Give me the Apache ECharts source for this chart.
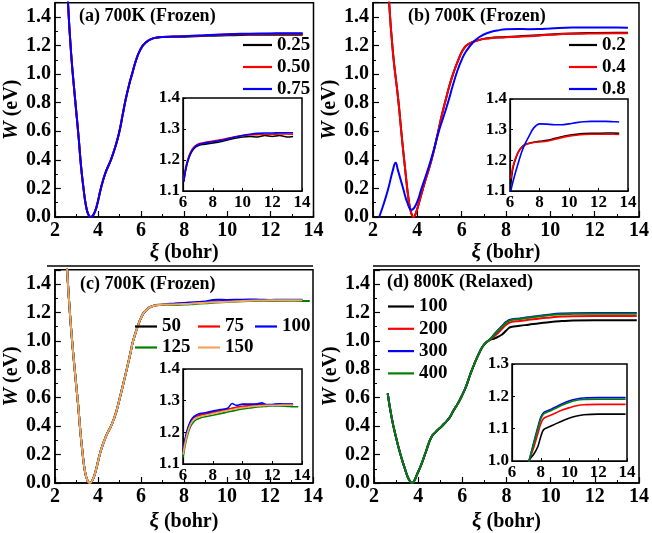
<!DOCTYPE html>
<html><head><meta charset="utf-8">
<script src="https://cdn.jsdelivr.net/npm/echarts@6/dist/echarts.min.js"></script>
<style>html,body{margin:0;padding:0;background:#fff}#c{width:652px;height:533px}</style>
</head><body><div id="c"></div>
<script>
// ---------- Panel (a) 700K Frozen ----------
const aRiseXi = [2.6, 2.75, 2.94, 3.1, 3.21, 3.32, 3.44, 3.56, 3.67, 3.79, 3.93, 4.15, 4.35, 4.6, 4.8, 4.98, 5.15, 5.28, 5.45, 5.58, 5.75, 5.96, 6.2, 6.55, 7.0];
const aRiseW  = [1.52, 1.15, 0.82, 0.56, 0.36, 0.21, 0.08, 0.015, 0.0, 0.015, 0.07, 0.21, 0.31, 0.40, 0.49, 0.59, 0.72, 0.82, 0.93, 1.0, 1.09, 1.17, 1.22, 1.25, 1.26];
const aPlatXi = [7.5, 8, 9, 10, 11, 12, 13, 13.5];
const aPlat025 = [1.262, 1.262, 1.268, 1.272, 1.275, 1.276, 1.275, 1.275];
const aPlat050 = [1.263, 1.265, 1.27, 1.278, 1.28, 1.282, 1.283, 1.283];
const aPlat075 = [1.263, 1.265, 1.272, 1.28, 1.283, 1.285, 1.286, 1.286];
const aInXi  = [6.05, 6.2, 6.4, 6.6, 6.8, 7.0, 7.3, 7.6, 8.0, 8.5, 9.0, 9.5, 10, 10.5, 11, 11.5, 12, 12.5, 13, 13.4];
const aIn025 = [1.13, 1.172, 1.207, 1.228, 1.24, 1.246, 1.25, 1.252, 1.255, 1.259, 1.265, 1.27, 1.274, 1.276, 1.274, 1.279, 1.276, 1.279, 1.274, 1.276];
const aIn050 = [1.135, 1.18, 1.213, 1.233, 1.245, 1.251, 1.255, 1.258, 1.261, 1.265, 1.27, 1.275, 1.279, 1.281, 1.282, 1.283, 1.283, 1.284, 1.284, 1.283];
const aIn075 = [1.13, 1.175, 1.21, 1.23, 1.242, 1.249, 1.253, 1.256, 1.259, 1.263, 1.268, 1.274, 1.279, 1.283, 1.286, 1.287, 1.287, 1.288, 1.288, 1.288];

// ---------- Panel (b) 700K Frozen ----------
const bXi  = [2.72, 2.9, 3.14, 3.3, 3.44, 3.6, 3.72, 3.83, 3.95, 4.11, 4.35, 4.64, 4.93, 5.1, 5.28, 5.45, 5.61, 5.8, 6.06, 6.3, 6.8, 7.2, 8, 9, 10, 11, 12, 13, 13.5];
const b02W = [1.52, 1.15, 0.82, 0.56, 0.35, 0.13, 0.03, 0.0, 0.035, 0.12, 0.25, 0.40, 0.59, 0.71, 0.82, 0.92, 1.0, 1.08, 1.17, 1.21, 1.24, 1.252, 1.26, 1.268, 1.278, 1.285, 1.288, 1.289, 1.289];
const b04W = [1.52, 1.15, 0.82, 0.56, 0.35, 0.13, 0.03, 0.0, 0.035, 0.12, 0.25, 0.40, 0.59, 0.71, 0.82, 0.92, 1.0, 1.08, 1.17, 1.21, 1.24, 1.25, 1.258, 1.265, 1.275, 1.282, 1.285, 1.286, 1.286];
const b08Xi = [2.28, 2.5, 2.69, 2.9, 3.02, 3.12, 3.36, 3.55, 3.74, 3.95, 4.19, 4.45, 4.69, 4.97, 5.2, 5.4, 5.6, 5.8, 6.0, 6.2, 6.5, 6.8, 7.2, 7.6, 8.0, 8.5, 9.0, 9.5, 10, 11, 12, 13, 13.5];
const b08W  = [0.0, 0.1, 0.2, 0.33, 0.38, 0.33, 0.2, 0.1, 0.05, 0.09, 0.2, 0.32, 0.44, 0.6, 0.71, 0.81, 0.92, 1.02, 1.1, 1.16, 1.22, 1.26, 1.29, 1.305, 1.315, 1.316, 1.315, 1.316, 1.32, 1.326, 1.327, 1.326, 1.325];
const bInXi = [6.05, 6.2, 6.4, 6.6, 6.8, 7.0, 7.3, 7.6, 8.0, 8.5, 9.0, 9.5, 10, 10.5, 11, 11.5, 12, 12.5, 13, 13.4];
const bIn02 = [1.12, 1.175, 1.208, 1.23, 1.243, 1.251, 1.256, 1.259, 1.262, 1.265, 1.271, 1.277, 1.282, 1.285, 1.287, 1.288, 1.288, 1.289, 1.289, 1.288];
const bIn04 = [1.14, 1.18, 1.21, 1.23, 1.242, 1.25, 1.255, 1.258, 1.26, 1.262, 1.268, 1.274, 1.279, 1.282, 1.284, 1.285, 1.285, 1.285, 1.285, 1.284];
const bIn08 = [1.1, 1.13, 1.165, 1.198, 1.228, 1.252, 1.28, 1.305, 1.319, 1.318, 1.316, 1.316, 1.319, 1.323, 1.326, 1.327, 1.327, 1.327, 1.326, 1.325];

// ---------- Panel (c) 700K Frozen ----------
const cRiseXi = [2.56, 2.72, 2.92, 3.08, 3.18, 3.28, 3.4, 3.52, 3.62, 3.73, 3.87, 4.12, 4.35, 4.64, 4.85, 5.02, 5.2, 5.4, 5.52, 5.62, 5.8, 6.0, 6.2, 6.55, 7.0];
const cRiseW  = [1.52, 1.15, 0.8, 0.55, 0.37, 0.22, 0.08, 0.015, 0.0, 0.015, 0.07, 0.22, 0.32, 0.41, 0.5, 0.6, 0.71, 0.84, 0.92, 0.99, 1.08, 1.16, 1.21, 1.245, 1.255];
const cPlatXi = [7.5, 8, 8.5, 9, 9.5, 10, 10.5, 11, 11.5, 12, 12.5, 13, 13.5];
const cPlatXi125 = [7.5, 8, 8.5, 9, 9.5, 10, 10.5, 11, 11.5, 12, 12.5, 13, 13.5, 13.85];
const c50  = [1.26, 1.263, 1.267, 1.272, 1.275, 1.279, 1.282, 1.285, 1.286, 1.286, 1.287, 1.287, 1.287];
const c75  = [1.26, 1.263, 1.268, 1.272, 1.276, 1.28, 1.283, 1.285, 1.286, 1.286, 1.286, 1.287, 1.286];
const c100 = [1.262, 1.267, 1.272, 1.277, 1.29, 1.288, 1.289, 1.291, 1.29, 1.288, 1.29, 1.289, 1.289];
const c125 = [1.252, 1.255, 1.26, 1.265, 1.27, 1.274, 1.277, 1.28, 1.281, 1.282, 1.283, 1.282, 1.281, 1.281];
const c150 = [1.256, 1.259, 1.264, 1.269, 1.272, 1.275, 1.279, 1.283, 1.284, 1.285, 1.285, 1.286, 1.286];
const cInXi    = [6.0, 6.15, 6.3, 6.5, 6.7, 6.9, 7.2, 7.5, 8, 8.5, 9, 9.3, 9.6, 10, 10.5, 11, 11.3, 11.6, 12, 12.5, 13, 13.4];
const cInXi125 = [6.0, 6.15, 6.3, 6.5, 6.7, 6.9, 7.2, 7.5, 8, 8.5, 9, 9.3, 9.6, 10, 10.5, 11, 11.3, 11.6, 12, 12.5, 13, 13.4, 13.75];
const cIn50  = [1.135, 1.175, 1.205, 1.23, 1.244, 1.25, 1.255, 1.258, 1.262, 1.267, 1.272, 1.275, 1.278, 1.281, 1.284, 1.286, 1.287, 1.287, 1.287, 1.288, 1.288, 1.288];
const cIn75  = [1.14, 1.178, 1.207, 1.232, 1.245, 1.251, 1.256, 1.259, 1.263, 1.268, 1.272, 1.276, 1.279, 1.282, 1.284, 1.286, 1.286, 1.287, 1.287, 1.287, 1.288, 1.287];
const cIn100 = [1.14, 1.18, 1.21, 1.235, 1.248, 1.255, 1.26, 1.262, 1.267, 1.272, 1.276, 1.291, 1.285, 1.289, 1.289, 1.29, 1.293, 1.288, 1.288, 1.29, 1.289, 1.289];
const cIn125 = [1.12, 1.16, 1.19, 1.218, 1.232, 1.24, 1.246, 1.249, 1.254, 1.259, 1.264, 1.267, 1.27, 1.274, 1.277, 1.28, 1.281, 1.282, 1.283, 1.283, 1.282, 1.281, 1.281];
const cIn150 = [1.13, 1.168, 1.198, 1.225, 1.24, 1.246, 1.251, 1.254, 1.259, 1.264, 1.269, 1.272, 1.275, 1.278, 1.281, 1.283, 1.284, 1.285, 1.285, 1.286, 1.286, 1.286];

// ---------- Panel (d) 800K Relaxed ----------
const dRiseXi = [2.62, 2.8, 3.0, 3.2, 3.38, 3.52, 3.63, 3.72, 3.81, 3.92, 4.14, 4.35, 4.59, 4.8, 4.97, 5.2, 5.42, 5.6, 5.8, 6.0, 6.17, 6.35, 6.55, 6.75, 6.92, 7.05];
const dRiseW  = [0.63, 0.46, 0.32, 0.2, 0.11, 0.045, 0.012, 0.0, 0.012, 0.05, 0.13, 0.22, 0.32, 0.36, 0.385, 0.42, 0.46, 0.51, 0.56, 0.62, 0.68, 0.76, 0.84, 0.91, 0.96, 0.985];
const dTailXi = [7.2, 7.5, 7.8, 8.0, 8.2, 8.6, 9, 9.5, 10, 10.5, 11, 12, 13, 13.9];
const d100 = [1.003, 1.02, 1.045, 1.075, 1.097, 1.106, 1.114, 1.124, 1.133, 1.139, 1.143, 1.145, 1.145, 1.145];
const d200 = [1.003, 1.04, 1.085, 1.115, 1.132, 1.14, 1.148, 1.158, 1.165, 1.171, 1.174, 1.175, 1.175, 1.175];
const d300 = [1.003, 1.055, 1.105, 1.135, 1.15, 1.158, 1.166, 1.177, 1.186, 1.192, 1.195, 1.196, 1.196, 1.196];
const d400 = [1.003, 1.052, 1.1, 1.13, 1.146, 1.154, 1.162, 1.173, 1.182, 1.188, 1.19, 1.191, 1.191, 1.191];

// ---------- ticks / labels ----------
const mainXTicks = [2, 4, 6, 8, 10, 12, 14];
const mainYTicks = [0.0, 0.2, 0.4, 0.6, 0.8, 1.0, 1.2, 1.4];
const insetYTicksABC = [1.1, 1.2, 1.3, 1.4];
const insetYTicksD = [1.0, 1.1, 1.2, 1.3];
const titles = ['(a) 700K (Frozen)', '(b) 700K (Frozen)', '(c) 700K (Frozen)', '(d) 800K (Relaxed)'];

const F = 'Liberation Serif';
const BLACK = '#000000', RED = '#ff0000', BLUE = '#0000ff', GREEN = '#008000', ORANGE = '#f4a460';

function pairs(xs, ys) { return xs.map((x, i) => [x, ys[i]]); }
function cat(a, b) { return a.concat(b); }

const grids = [
  {left: 47.5, top: 2.7, width: 266, height: 214.3},
  {left: 183, top: 98, width: 119, height: 93},
  {left: 373, top: 2.7, width: 267, height: 214.3},
  {left: 510, top: 99, width: 118, height: 92},
  {left: 48, top: 269.8, width: 265, height: 213.2},
  {left: 183, top: 369, width: 119, height: 95},
  {left: 374, top: 269.8, width: 266, height: 213.2},
  {left: 512, top: 364, width: 115, height: 97}
].map(g => Object.assign(g, {show: true, borderColor: '#000', borderWidth: 1.5, backgroundColor: 'transparent', containLabel: false}));

const lblMain = {fontFamily: F, fontWeight: 'bold', fontSize: 20, color: '#000'};
const lblIn = {fontFamily: F, fontWeight: 'bold', fontSize: 17, color: '#000'};
const nameStyle = {fontFamily: F, fontWeight: 'bold', fontSize: 20, color: '#000',
  rich: {i: {fontFamily: F, fontWeight: 'bold', fontStyle: 'italic', fontSize: 21, color: '#000'}}};

function mainX(gi, gap) {
  return {type: 'value', gridIndex: gi, min: mainXTicks[0], max: mainXTicks[mainXTicks.length-1], interval: mainXTicks[1]-mainXTicks[0],
    name: '{i|ξ} (bohr)', nameLocation: 'middle', nameGap: gap, nameTextStyle: nameStyle,
    axisLine: {lineStyle: {color: '#000', width: 1.5}}, axisTick: {inside: true, length: 6, lineStyle: {color: '#000', width: 1.2}},
    minorTick: {show: true, splitNumber: 2, length: 3, lineStyle: {color: '#000', width: 1}},
    splitLine: {show: false}, axisLabel: Object.assign({margin: 4}, lblMain)};
}
function mainY(gi) {
  return {type: 'value', gridIndex: gi, min: mainYTicks[0], max: 1.5, interval: 0.2,
    name: '{i|W} (eV)', nameLocation: 'middle', nameGap: 29, nameTextStyle: nameStyle,
    axisLine: {lineStyle: {color: '#000', width: 1.5}}, axisTick: {inside: true, length: 6, lineStyle: {color: '#000', width: 1.2}},
    minorTick: {show: true, splitNumber: 2, length: 3, lineStyle: {color: '#000', width: 1}},
    splitLine: {show: false}, axisLabel: Object.assign({margin: 4, showMaxLabel: false, formatter: v => v.toFixed(1)}, lblMain)};
}
function inX(gi) {
  return {type: 'value', gridIndex: gi, min: 6, max: 14, interval: 2,
    axisLine: {lineStyle: {color: '#000', width: 1.2}}, axisTick: {inside: true, length: 3, lineStyle: {color: '#000'}},
    splitLine: {show: false}, axisLabel: Object.assign({margin: 3}, lblIn)};
}
function inY(gi, ticks) {
  return {type: 'value', gridIndex: gi, min: ticks[0], max: ticks[ticks.length-1], interval: 0.1,
    axisLine: {lineStyle: {color: '#000', width: 1.2}}, axisTick: {inside: true, length: 3, lineStyle: {color: '#000'}},
    splitLine: {show: false}, axisLabel: Object.assign({margin: 3, formatter: v => v.toFixed(1)}, lblIn)};
}

const xAxes = [mainX(0, 21), inX(1), mainX(2, 21), inX(3), mainX(4, 28), inX(5), mainX(6, 28), inX(7)];
const yAxes = [mainY(0), inY(1, insetYTicksABC), mainY(2), inY(3, insetYTicksABC), mainY(4), inY(5, insetYTicksABC), mainY(6), inY(7, insetYTicksD)];

function ln(name, ai, data, color, w) {
  const inset = ai % 2 === 1;
  return {type: 'line', name, xAxisIndex: ai, yAxisIndex: ai, data, color, showSymbol: false, symbol: 'none',
    smooth: inset ? 0.3 : 0.5, clip: true, lineStyle: {color, width: w || 2}, itemStyle: {color}, animation: false, silent: true};
}

const series = [
  ln('a|0.25', 0, pairs(cat(aRiseXi, aPlatXi), cat(aRiseW, aPlat025)), BLACK),
  ln('a|0.50', 0, pairs(cat(aRiseXi, aPlatXi), cat(aRiseW, aPlat050)), RED),
  ln('a|0.75', 0, pairs(cat(aRiseXi, aPlatXi), cat(aRiseW, aPlat075)), BLUE),
  ln('a|0.25', 1, pairs(aInXi, aIn025), BLACK, 1.6),
  ln('a|0.50', 1, pairs(aInXi, aIn050), RED, 1.6),
  ln('a|0.75', 1, pairs(aInXi, aIn075), BLUE, 1.6),

  ln('b|0.2', 2, pairs(bXi, b02W), BLACK),
  ln('b|0.4', 2, pairs(bXi, b04W), RED),
  ln('b|0.8', 2, pairs(b08Xi, b08W), BLUE),
  ln('b|0.2', 3, pairs(bInXi, bIn02), BLACK, 1.6),
  ln('b|0.4', 3, pairs(bInXi, bIn04), RED, 1.6),
  ln('b|0.8', 3, pairs(bInXi, bIn08), BLUE, 1.6),

  ln('c|50', 4, pairs(cat(cRiseXi, cPlatXi), cat(cRiseW, c50)), BLACK),
  ln('c|75', 4, pairs(cat(cRiseXi, cPlatXi), cat(cRiseW, c75)), RED),
  ln('c|100', 4, pairs(cat(cRiseXi, cPlatXi), cat(cRiseW, c100)), BLUE),
  ln('c|125', 4, pairs(cat(cRiseXi, cPlatXi125), cat(cRiseW, c125)), GREEN),
  ln('c|150', 4, pairs(cat(cRiseXi, cPlatXi), cat(cRiseW, c150)), ORANGE),
  ln('c|50', 5, pairs(cInXi, cIn50), BLACK, 1.6),
  ln('c|75', 5, pairs(cInXi, cIn75), RED, 1.6),
  ln('c|100', 5, pairs(cInXi, cIn100), BLUE, 1.6),
  ln('c|125', 5, pairs(cInXi125, cIn125), GREEN, 1.6),
  ln('c|150', 5, pairs(cInXi, cIn150), ORANGE, 1.6),

  ln('d|100', 6, pairs(cat(dRiseXi, dTailXi), cat(dRiseW, d100)), BLACK),
  ln('d|200', 6, pairs(cat(dRiseXi, dTailXi), cat(dRiseW, d200)), RED),
  ln('d|300', 6, pairs(cat(dRiseXi, dTailXi), cat(dRiseW, d300)), BLUE),
  ln('d|400', 6, pairs(cat(dRiseXi, dTailXi), cat(dRiseW, d400)), GREEN),
  ln('d|100', 7, pairs(cat(dRiseXi, dTailXi), cat(dRiseW, d100)), BLACK, 1.6),
  ln('d|200', 7, pairs(cat(dRiseXi, dTailXi), cat(dRiseW, d200)), RED, 1.6),
  ln('d|300', 7, pairs(cat(dRiseXi, dTailXi), cat(dRiseW, d300)), BLUE, 1.6),
  ln('d|400', 7, pairs(cat(dRiseXi, dTailXi), cat(dRiseW, d400)), GREEN, 1.6)
];

const legTxt = {fontFamily: F, fontWeight: 'bold', fontSize: 19, lineHeight: 19, color: '#000'};
function leg(data, left, top, iw, gap) {
  return {data, left, top, orient: 'vertical', icon: 'rect', itemWidth: iw, itemHeight: 2.2, itemGap: gap,
    padding: 0, selectedMode: false, textStyle: legTxt, formatter: n => n.split('|')[1]};
}
const legends = [
  leg(['a|0.25', 'a|0.50', 'a|0.75'], 243, 35.5, 29, 3),
  leg(['b|0.2', 'b|0.4', 'b|0.8'], 569, 35.5, 28, 3),
  leg(['c|50'], 135, 317, 22, 3),
  leg(['c|75'], 198, 317, 22, 3),
  leg(['c|100'], 255, 317, 22, 3),
  leg(['c|125'], 135, 338, 22, 3),
  leg(['c|150'], 198, 338, 22, 3),
  leg(['d|100', 'd|200', 'd|300', 'd|400'], 388, 297, 26, 3.3)
];

const titleStyle = {fontFamily: F, fontWeight: 'bold', fontSize: 18, color: '#000'};
const titlePos = [[79, 7.5], [408, 7.5], [80, 275], [387, 273]];
const titleOpts = titles.map((t, i) => ({text: t, left: titlePos[i][0], top: titlePos[i][1], padding: 0, textStyle: titleStyle}));

const chart = echarts.init(document.getElementById('c'), null, {renderer: 'canvas'});
chart.setOption({
  animation: false,
  backgroundColor: '#fff',
  title: titleOpts,
  grid: grids,
  xAxis: xAxes,
  yAxis: yAxes,
  legend: legends,
  series,
  graphic: [
    {type: 'line', shape: {x1: 47, y1: 266, x2: 313, y2: 266}, style: {stroke: '#000', lineWidth: 1.5}},
    {type: 'line', shape: {x1: 373, y1: 266, x2: 640, y2: 266}, style: {stroke: '#000', lineWidth: 1.5}}
  ]
});
</script></body></html>
